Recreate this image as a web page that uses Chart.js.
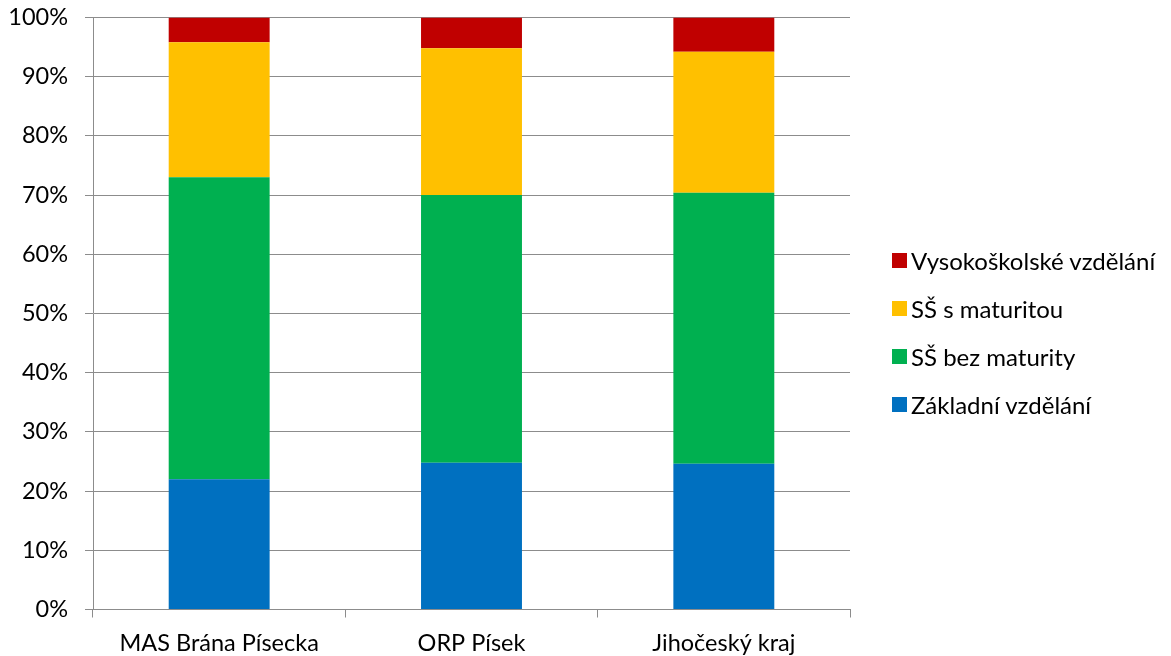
<!DOCTYPE html>
<html>
<head>
<meta charset="utf-8">
<script src="https://cdn.jsdelivr.net/npm/chart.js@4"></script>
<style>
  html, body { margin: 0; padding: 0; background: #fff; }
  #obal { position: relative; width: 1171px; height: 656px; }
  #legenda { position: absolute; left: 892px; top: 0; font-family: Lato, sans-serif; font-size: 24px; color: #000; }
  .polozka { position: absolute; left: 0; white-space: nowrap; height: 28px; line-height: 28px; }
  .ctverec { position: absolute; left: 0; top: 6px; width: 15px; height: 15px; }
  .text { position: absolute; left: 19px; top: 0; }
</style>
</head>
<body>
<div id="obal">
  <canvas id="graf" width="1171" height="656"></canvas>
  <div id="legenda"></div>
</div>
<script>
// kategorie a podíly (v %) podle vzdělání
const kategorie = ['MAS Brána Písecka', 'ORP Písek', 'Jihočeský kraj'];
const zakladni = [22.0, 24.8, 24.6];
const bezMaturity = [51.0, 45.2, 45.8];
const sMaturitou = [22.8, 24.8, 23.8];
const vysokoskolske = [4.2, 5.2, 5.8];
const osaY = [0, 10, 20, 30, 40, 50, 60, 70, 80, 90, 100];

const serie = [
    { label: 'Základní vzdělání', data: zakladni, color: '#0070C0' },
    { label: 'SŠ bez maturity', data: bezMaturity, color: '#00B050' },
    { label: 'SŠ s maturitou', data: sMaturitou, color: '#FFC000' },
    { label: 'Vysokoškolské vzdělání', data: vysokoskolske, color: '#C00000' }
];

const pismo = { family: 'Lato, sans-serif', size: 23.5 };
const sedaMrizka = '#8c8c8c';

const ctx = document.getElementById('graf').getContext('2d');
new Chart(ctx, {
    type: 'bar',
    data: {
        labels: kategorie,
        datasets: serie.map(s => ({
            label: s.label,
            data: s.data,
            backgroundColor: s.color,
            borderWidth: 0,
            categoryPercentage: 1,
            barPercentage: 0.4
        }))
    },
    options: {
        responsive: false,
        animation: false,
        layout: { padding: { top: 17.5, right: 321, left: 0, bottom: 0 } },
        plugins: { legend: { display: false }, tooltip: { enabled: false } },
        scales: {
            x: {
                stacked: true,
                grid: { offset: true, drawOnChartArea: false, color: sedaMrizka, tickLength: 8 },
                border: { color: sedaMrizka },
                ticks: { color: '#000', font: pismo, padding: 12, maxRotation: 0 },
                afterFit: scale => { scale.height = 46.5; scale.paddingLeft = 0; scale.paddingRight = 0; }
            },
            y: {
                stacked: true,
                min: 0,
                max: 100,
                afterBuildTicks: scale => { scale.ticks = osaY.map(v => ({ value: v })); },
                grid: { color: sedaMrizka, tickLength: 8 },
                border: { color: sedaMrizka },
                ticks: { color: '#000', font: pismo, padding: 17, callback: v => v + '%' },
                afterFit: scale => { scale.width = 93; scale.paddingTop = 0; scale.paddingBottom = 0; }
            }
        }
    }
});

// legenda vpravo, v obráceném pořadí
const legenda = document.getElementById('legenda');
const stredyRadku = [261, 309, 357, 405];
serie.slice().reverse().forEach((s, i) => {
    const div = document.createElement('div');
    div.className = 'polozka';
    div.style.top = (stredyRadku[i] - 14) + 'px';
    div.innerHTML = `<span class="ctverec" style="background:${s.color}"></span><span class="text">${s.label}</span>`;
    legenda.appendChild(div);
});
</script>
</body>
</html>
